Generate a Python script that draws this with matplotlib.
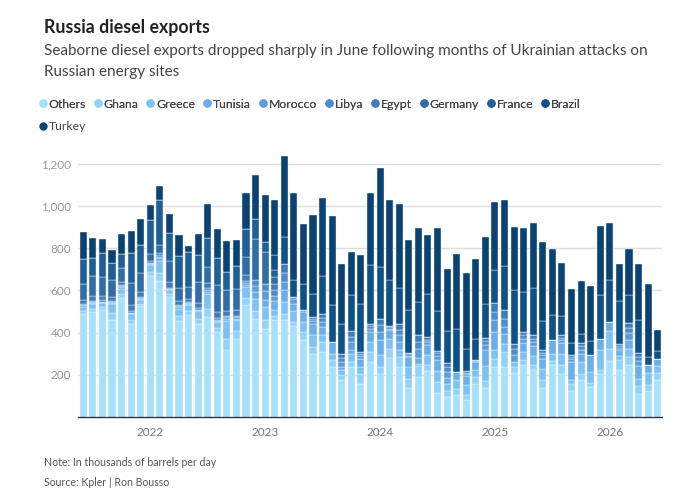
import numpy as np
import pandas as pd
import matplotlib
matplotlib.use('Agg')
import matplotlib.pyplot as plt
from matplotlib.lines import Line2D

plt.rcParams['font.family'] = ['Lato', 'DejaVu Sans']

# monthly bars, June 2021 .. June 2026
months = pd.date_range('2021-06-01', periods=61, freq='MS')

# thousands of barrels per day
others = [487, 498, 506, 461, 564, 441, 526, 667, 643, 569,
          455, 482, 442, 474, 403, 319, 371, 532, 466, 419,
          458, 458, 430, 367, 297, 308, 237, 174, 237, 158,
          259, 202, 280, 237, 139, 190, 218, 115, 95, 103,
          82, 158, 139, 237, 237, 209, 245, 221, 139, 245,
          202, 123, 174, 142, 205, 265, 224, 245, 111, 123, 177]
ghana = [15, 16, 14, 30, 18, 20, 12, 21, 40, 12,
         23, 20, 24, 40, 19, 50, 35, 33, 38, 40,
         20, 32, 20, 36, 35, 47, 32, 23, 24, 44,
         49, 35, 44, 47, 43, 50, 27, 50, 30, 31,
         21, 32, 32, 39, 71, 28, 24, 24, 35, 21,
         43, 35, 28, 19, 19, 59, 45, 39, 34, 27, 32]
greece = [22, 23, 20, 46, 26, 29, 18, 31, 59, 19,
          35, 30, 35, 67, 28, 86, 52, 50, 57, 62,
          30, 55, 55, 47, 55, 32, 31, 24, 39, 35,
          47, 55, 47, 32, 55, 13, 47, 55, 30, 40,
          47, 31, 69, 40, 40, 22, 39, 42, 55, 34,
          55, 19, 59, 52, 92, 84, 18, 40, 37, 59, 31]
tunisia = [5, 4, 6, 3, 8, 5, 4, 6, 10, 5,
           8, 6, 5, 12, 6, 10, 8, 12, 30, 35,
           40, 55, 32, 48, 55, 40, 55, 16, 19, 39,
           48, 71, 40, 39, 47, 28, 48, 50, 32, 39,
           43, 40, 79, 87, 47, 0, 43, 48, 47, 67,
           51, 84, 39, 79, 55, 42, 29, 43, 58, 36, 36]
morocco = [0, 3, 0, 4, 5, 0, 3, 4, 8, 3,
           5, 4, 3, 8, 5, 8, 6, 10, 30, 40,
           25, 40, 24, 11, 12, 25, 0, 24, 35, 12,
           15, 40, 8, 34, 7, 42, 15, 18, 28, 0,
           10, 5, 22, 55, 32, 35, 20, 20, 16, 0,
           14, 12, 20, 0, 0, 0, 12, 30, 25, 0, 0]
libya = [6, 5, 8, 4, 6, 8, 5, 0, 6, 6,
         5, 4, 8, 10, 8, 7, 6, 8, 27, 36,
         30, 45, 8, 0, 10, 18, 0, 18, 27, 10,
         12, 31, 6, 25, 6, 32, 12, 14, 22, 0,
         8, 3, 18, 40, 40, 27, 16, 16, 12, 0,
         11, 10, 16, 0, 0, 0, 10, 24, 19, 0, 0]
egypt = [20, 25, 22, 20, 15, 30, 25, 10, 12, 25,
         18, 15, 25, 25, 30, 25, 30, 30, 0, 0,
         30, 42, 0, 0, 10, 20, 0, 18, 27, 10,
         12, 32, 6, 25, 6, 32, 12, 13, 21, 0,
         7, 3, 17, 42, 39, 27, 16, 16, 12, 0,
         11, 9, 15, 0, 0, 0, 10, 24, 19, 0, 0]
germany = [74, 93, 88, 83, 64, 104, 91, 35, 36, 99,
           62, 55, 98, 75, 125, 95, 100, 86, 197, 150,
           30, 0, 0, 0, 0, 0, 0, 0, 0, 0,
           0, 0, 0, 0, 0, 0, 0, 0, 0, 0,
           0, 0, 0, 0, 0, 0, 0, 0, 0, 0,
           0, 0, 0, 0, 0, 0, 0, 0, 0, 0, 0]
france = [118, 85, 113, 80, 68, 140, 134, 158, 213, 134,
          154, 166, 129, 140, 130, 87, 106, 131, 95, 47,
          35, 0, 0, 0, 0, 0, 0, 0, 0, 0,
          0, 0, 0, 0, 0, 0, 0, 0, 0, 0,
          0, 0, 0, 0, 0, 0, 0, 0, 0, 0,
          0, 0, 0, 0, 0, 0, 0, 0, 0, 0, 0]
brazil = [0, 0, 0, 0, 0, 0, 0, 0, 0, 0,
          0, 0, 0, 0, 0, 0, 0, 0, 0, 0,
          70, 126, 80, 123, 111, 177, 174, 145, 169, 226,
          277, 245, 220, 174, 206, 158, 206, 186, 150, 206,
          106, 99, 161, 155, 208, 255, 188, 224, 137, 115,
          92, 59, 41, 68, 206, 198, 202, 132, 155, 40, 38]
turkey = [130, 98, 67, 59, 95, 106, 122, 74, 68, 92,
          99, 31, 97, 161, 139, 146, 126, 170, 208, 222,
          260, 387, 413, 281, 374, 373, 422, 285, 205, 232,
          344, 469, 379, 398, 331, 351, 276, 395, 295, 355,
          358, 378, 319, 327, 316, 297, 306, 308, 375, 314,
          251, 256, 251, 262, 331, 271, 174, 219, 269, 347, 100]

names = ['Others', 'Ghana', 'Greece', 'Tunisia', 'Morocco', 'Libya',
         'Egypt', 'Germany', 'France', 'Brazil', 'Turkey']
series = [others, ghana, greece, tunisia, morocco, libya,
          egypt, germany, france, brazil, turkey]
colors = ['#a6e1fc', '#93d3f9', '#7ec1f3', '#6caeea', '#5c9dda', '#4e8cca',
          '#407cb9', '#316ca7', '#1f5e96', '#0f5086', '#0b4271']

fig = plt.figure(figsize=(7, 4.95), dpi=100)
ax = fig.add_axes([78/700, 1 - 417/495, 584/700, (417 - 145)/495])

x = np.arange(len(months))
bottom = np.zeros(len(x))
for name, vals, col in zip(names, series, colors):
    vals = np.array(vals, dtype=float)
    ax.bar(x, vals, bottom=bottom, width=0.74, color=col,
           edgecolor='#eef8ff', linewidth=0.3, label=name, zorder=2)
    bottom += vals

ax.set_xlim(-0.55, 60.45)
ax.set_ylim(0, 1290)
yt = [200, 400, 600, 800, 1000, 1200]
ax.set_yticks(yt)
ax.set_yticklabels([f'{v:,}' for v in yt])
jan = [i for i, m in enumerate(months) if m.month == 1]
ax.set_xticks(jan)
ax.set_xticklabels([str(months[i].year) for i in jan])
ax.grid(axis='y', color='#dedede', linewidth=1, zorder=0)
ax.set_axisbelow(True)
for s in ['top', 'right', 'left']:
    ax.spines[s].set_visible(False)
ax.spines['bottom'].set_color('#333333')
ax.spines['bottom'].set_linewidth(1)
ax.spines['bottom'].set_zorder(3)
ax.tick_params(axis='y', length=0, pad=5, labelcolor='#999999', labelsize=8.5)
ax.tick_params(axis='x', length=0, pad=7, labelcolor='#777777', labelsize=8.5)

fig.text(44/700, 1 - 28/495, 'Russia diesel exports', fontsize=12.8,
         fontweight='bold', color='#222222', va='center')
fig.text(44/700, 1 - 51/495,
         'Seaborne diesel exports dropped sharply in June following months of Ukrainian attacks on',
         fontsize=11, color='#444444', va='center')
fig.text(44/700, 1 - 72/495, 'Russian energy sites', fontsize=11,
         color='#444444', va='center')

handles = [Line2D([0], [0], marker='o', linestyle='', markersize=5,
                  markerfacecolor=c, markeredgecolor=c) for c in colors]
leg1 = fig.legend(handles[:10], names[:10], ncol=10, loc='center left',
                  bbox_to_anchor=(39/700, 1 - 104/495), frameon=False,
                  fontsize=8.8, handlelength=0.6, handletextpad=0.2,
                  columnspacing=0.65, borderpad=0, borderaxespad=0,
                  labelcolor='#444444')
fig.add_artist(leg1)
fig.legend(handles[10:], names[10:], loc='center left',
           bbox_to_anchor=(39/700, 1 - 127/495), frameon=False,
           fontsize=8.8, handlelength=0.6, handletextpad=0.2,
           borderpad=0, borderaxespad=0, labelcolor='#444444')

fig.text(44/700, 1 - 463/495, 'Note: In thousands of barrels per day',
         fontsize=7.6, color='#555555', va='center')
fig.text(44/700, 1 - 483/495, 'Source: Kpler | Ron Bousso',
         fontsize=7.6, color='#555555', va='center')

fig.savefig('out.png', dpi=100)
